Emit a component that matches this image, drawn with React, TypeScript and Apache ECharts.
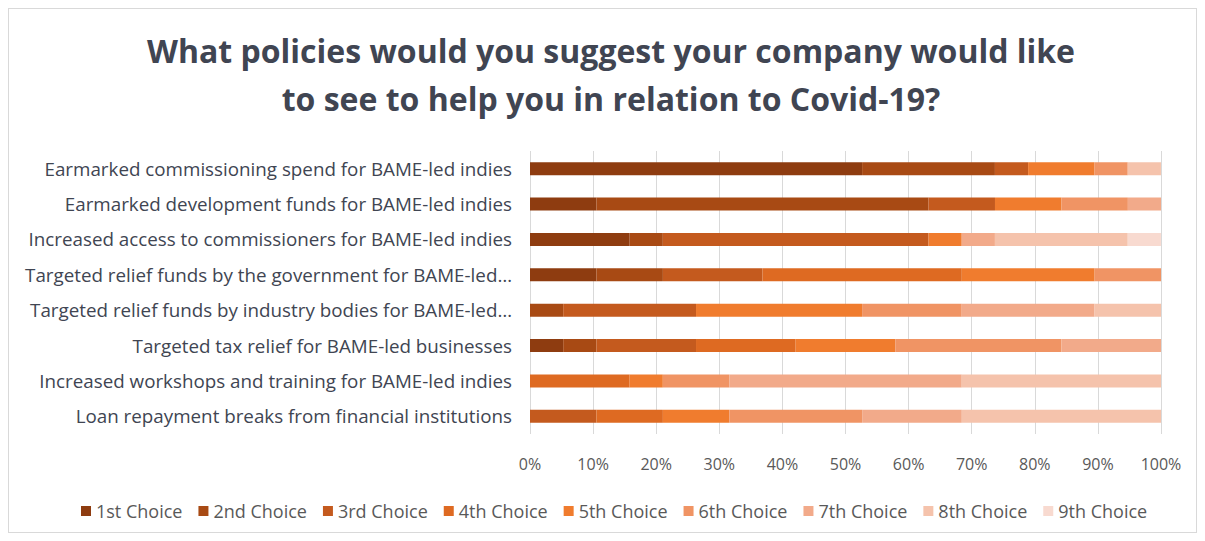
import React, { useEffect, useRef } from "react";
import * as echarts from "echarts";

const categories = [
  "Earmarked commissioning spend for BAME-led indies",
  "Earmarked development funds for BAME-led indies",
  "Increased access to commissioners for BAME-led indies",
  "Targeted relief funds by the government for BAME-led…",
  "Targeted relief funds by industry bodies for BAME-led…",
  "Targeted tax relief for BAME-led businesses",
  "Increased workshops and training for BAME-led indies",
  "Loan repayment breaks from financial institutions",
];

const choiceNames = [
  "1st Choice", "2nd Choice", "3rd Choice", "4th Choice", "5th Choice",
  "6th Choice", "7th Choice", "8th Choice", "9th Choice",
];

// percentages per policy (share of respondents)
const choice1 = [52.63, 10.53, 15.79, 10.53, 0, 5.26, 0, 0];
const choice2 = [21.05, 52.63, 5.26, 10.53, 5.26, 5.26, 0, 0];
const choice3 = [5.26, 10.53, 42.11, 15.79, 21.05, 15.79, 0, 10.53];
const choice4 = [0, 0, 0, 31.58, 0, 15.79, 15.79, 10.53];
const choice5 = [10.53, 10.53, 5.26, 21.05, 26.32, 15.79, 5.26, 10.53];
const choice6 = [5.26, 10.53, 0, 10.53, 15.79, 26.32, 10.53, 21.05];
const choice7 = [0, 5.26, 5.26, 0, 21.05, 15.79, 36.84, 15.79];
const choice8 = [5.26, 0, 21.05, 0, 10.53, 0, 31.58, 31.58];
const choice9 = [0, 0, 5.26, 0, 0, 0, 0, 0];

const choiceData = [choice1, choice2, choice3, choice4, choice5, choice6, choice7, choice8, choice9];

const colors = [
  "#8E3C10", "#A84A14", "#C45A1E", "#DE6A22", "#F07C2E",
  "#F09464", "#F2AA8A", "#F5C3AC", "#F8DAD0",
];

const xTicks = [0, 10, 20, 30, 40, 50, 60, 70, 80, 90, 100];

export default function App() {
  const ref = useRef<HTMLDivElement>(null);
  useEffect(() => {
    if (!ref.current) return;
    const chart = echarts.init(ref.current, undefined, { renderer: "svg" });
    const font = "'Open Sans', 'Noto Sans', sans-serif";
    chart.setOption({
      animation: false,
      color: colors,
      title: {
        text: "What policies would you suggest your company would like\nto see to help you in relation to Covid-19?",
        left: 597,
        top: 12,
        textAlign: "center",
        textStyle: {
          fontFamily: font,
          fontSize: 32,
          fontWeight: "bold",
          color: "#404552",
          lineHeight: 48,
        },
      },
      legend: {
        bottom: 7,
        left: 67,
        icon: "rect",
        itemWidth: 10,
        itemHeight: 10,
        itemGap: 16,
        data: choiceNames,
        textStyle: { fontFamily: font, fontSize: 18, color: "#595959" },
      },
      grid: { left: 521, right: 35, top: 142, height: 283, containLabel: false },
      xAxis: {
        type: "value",
        min: 0,
        max: 100,
        interval: 10,
        axisLine: { show: false },
        axisTick: { show: false },
        splitLine: { lineStyle: { color: "#D9D9D9", width: 1 } },
        axisLabel: {
          formatter: (v: number) => (xTicks.includes(v) ? v + "%" : ""),
          fontFamily: font,
          fontSize: 16,
          color: "#595959",
          margin: 22,
        },
      },
      yAxis: {
        type: "category",
        data: categories,
        inverse: true,
        axisLine: { show: false },
        axisTick: { show: false },
        axisLabel: {
          fontFamily: font,
          fontSize: 18.8,
          color: "#404552",
          margin: 18,
        },
      },
      series: choiceNames.map((name, i) => ({
        name,
        type: "bar",
        stack: "total",
        barWidth: 13,
        data: choiceData[i],
        itemStyle: { color: colors[i] },
      })),
    });
    return () => chart.dispose();
  }, []);
  return (
    <div
      style={{
        width: 1189,
        height: 525,
        border: "1px solid #D9D9D9",
        boxSizing: "border-box",
      }}
    >
      <div ref={ref} style={{ width: 1187, height: 523 }} />
    </div>
  );
}
